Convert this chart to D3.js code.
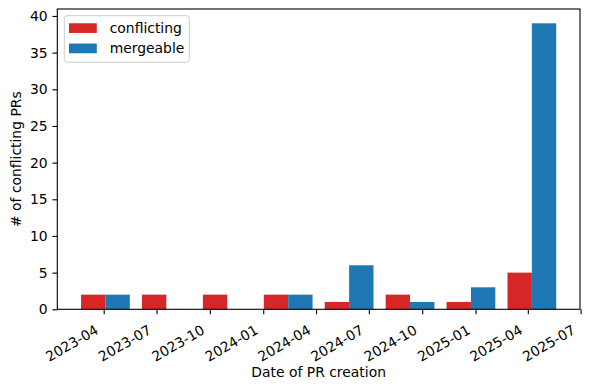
<!DOCTYPE html>
<meta charset="utf-8">
<style>
body { margin: 0; background: #fff; }
svg { font-family: "DejaVu Sans", sans-serif; }
.domain { display: none; }
</style>
<body>
<script src="https://cdn.jsdelivr.net/npm/d3@7"></script>
<script>

// bin centres (15-week bins) and counts per bin
var binDates = ["2023-04-04", "2023-07-18", "2023-10-31", "2024-02-13",
                "2024-05-28", "2024-09-10", "2024-12-24", "2025-04-08"];
var conflicting = [2, 2, 2, 2, 1, 2, 1, 5];
var mergeable   = [2, 0, 0, 2, 6, 1, 3, 39];
var seriesNames = ["conflicting", "mergeable"];
var xTickLabels = ["2023-04", "2023-07", "2023-10", "2024-01", "2024-04",
                   "2024-07", "2024-10", "2025-01", "2025-04", "2025-07"];
var yTickValues = [0, 5, 10, 15, 20, 25, 30, 35, 40];

var W = 590, H = 389;
var margin = {top: 9, right: 10, bottom: 79.7, left: 57.3},
    width = W - margin.left - margin.right,
    height = H - margin.top - margin.bottom;

var parse = d3.utcParse("%Y-%m-%d");
var parseMonth = d3.utcParse("%Y-%m");
var colors = {conflicting: "#d62728", mergeable: "#1f77b4"};
var barDays = 42;
var fontSize = "13.9px";

var data = binDates.map(function(d, i) {
  return {date: parse(d), conflicting: conflicting[i], mergeable: mergeable[i]};
});

// data extent plus 5% margins, like matplotlib autoscale
var lo = d3.utcDay.offset(data[0].date, -barDays);
var hi = d3.utcDay.offset(data[data.length - 1].date, barDays);
var pad = (hi - lo) * 0.05;

var x = d3.scaleUtc()
    .domain([new Date(+lo - pad), new Date(+hi + pad)])
    .range([0, width]);

var yMax = d3.max(mergeable.concat(conflicting)) * 1.05;
var y = d3.scaleLinear().domain([0, yMax]).range([height, 0]);

var svg = d3.select("body").append("svg")
    .attr("width", W)
    .attr("height", H);

var g = svg.append("g")
    .attr("transform", "translate(" + margin.left + "," + margin.top + ")");

// bars: red to the left of the bin centre, blue to the right
g.selectAll(".bar-c")
    .data(data)
  .enter().append("rect")
    .attr("x", function(d) { return x(d3.utcDay.offset(d.date, -barDays)); })
    .attr("width", function(d) { return x(d.date) - x(d3.utcDay.offset(d.date, -barDays)); })
    .attr("y", function(d) { return y(d.conflicting); })
    .attr("height", function(d) { return height - y(d.conflicting); })
    .attr("fill", colors.conflicting);

g.selectAll(".bar-m")
    .data(data)
  .enter().append("rect")
    .attr("x", function(d) { return x(d.date); })
    .attr("width", function(d) { return x(d3.utcDay.offset(d.date, barDays)) - x(d.date); })
    .attr("y", function(d) { return y(d.mergeable); })
    .attr("height", function(d) { return height - y(d.mergeable); })
    .attr("fill", colors.mergeable);

// x axis
var xAxis = g.append("g")
    .attr("transform", "translate(0," + height + ")")
    .call(d3.axisBottom(x)
        .tickValues(xTickLabels.map(parseMonth))
        .tickFormat(d3.utcFormat("%Y-%m"))
        .tickSize(4.86)
        .tickPadding(0));

xAxis.attr("font-family", null).attr("font-size", null);
xAxis.selectAll(".tick line").attr("stroke", "#000").attr("stroke-width", 1.1);
xAxis.selectAll(".tick text")
    .style("font-size", fontSize)
    .attr("fill", "#000")
    .attr("text-anchor", "end")
    .attr("y", 0)
    .attr("dy", "-0.24em")
    .attr("transform", "translate(-3,26.5) rotate(-30)");

// y axis
var yAxis = g.append("g")
    .call(d3.axisLeft(y)
        .tickValues(yTickValues)
        .tickSize(4.86)
        .tickPadding(4.86));
yAxis.attr("font-family", null).attr("font-size", null);
yAxis.selectAll(".tick line").attr("stroke", "#000").attr("stroke-width", 1.1);
yAxis.selectAll(".tick text").style("font-size", fontSize).attr("fill", "#000");

// spines
g.append("rect")
    .attr("width", width)
    .attr("height", height)
    .attr("fill", "none")
    .attr("stroke", "#000")
    .attr("stroke-width", 1.1);

// axis titles
svg.append("text")
    .attr("x", margin.left + width / 2)
    .attr("y", 377)
    .attr("text-anchor", "middle")
    .style("font-size", fontSize)
    .text("Date of PR creation");

svg.append("text")
    .attr("transform", "translate(21," + (margin.top + height / 2) + ") rotate(-90)")
    .attr("text-anchor", "middle")
    .style("font-size", fontSize)
    .text("# of conflicting PRs");

// legend
var legend = svg.append("g").attr("transform", "translate(64.3,15.7)");
legend.append("rect")
    .attr("width", 125)
    .attr("height", 46.6)
    .attr("rx", 2.8)
    .attr("fill", "#fff")
    .attr("fill-opacity", 0.8)
    .attr("stroke", "#cccccc")
    .attr("stroke-width", 1);

var items = legend.selectAll(".item")
    .data(seriesNames)
  .enter().append("g")
    .attr("transform", function(d, i) { return "translate(0," + (12.4 + i * 20.3) + ")"; });

items.append("rect")
    .attr("x", 4.7)
    .attr("y", -4.85)
    .attr("width", 27.8)
    .attr("height", 9.7)
    .attr("fill", function(d) { return colors[d]; });

items.append("text")
    .attr("x", 45.4)
    .attr("dy", "0.36em")
    .style("font-size", fontSize)
    .text(function(d) { return d; });

</script>
</body>
